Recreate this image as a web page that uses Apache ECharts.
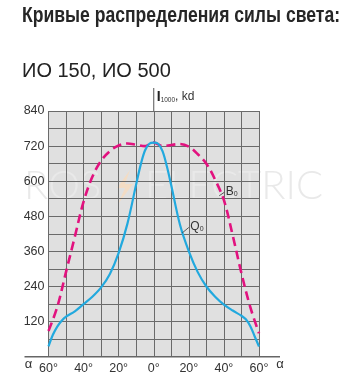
<!DOCTYPE html>
<html><head><meta charset="utf-8">
<script src="https://cdn.jsdelivr.net/npm/echarts@6/dist/echarts.min.js"></script>
<style>html,body{margin:0;padding:0;background:#fff}#c{width:352px;height:382px}</style>
</head><body><div id="c"></div>
<script>
// ---- data ----
const titleText = 'Кривые распределения силы света:';
const subtitleText = 'ИО 150, ИО 500';
const xTickLabels = [-60, -40, -20, 0, 20, 40, 60];
const yTickLabels = [120, 240, 360, 480, 600, 720, 840];
const q0Alpha = [-60,-57.5,-55,-52.5,-50,-45,-40,-35,-30,-25,-20,-15,-10,-7.5,-5,-2.5,0,2.5,5,7.5,10,15,20,25,30,35,40,45,50,52.5,55,57.5,60];
const q0Values = [35,75,103,123,137,155,180,205,237,283,355,455,590,655,705,728,732,728,703,650,585,450,360,290,240,205,178,158,140,128,105,70,35];
const b0Alpha = [-60,-55,-50,-45,-40,-35,-30,-25,-20,-15,-10,-5,-2.5,0,2.5,5,10,15,20,25,30,35,40,45,50,55,60];
const b0Values = [88,170,290,410,530,615,670,703,722,729,725,720,726,732,726,720,724,727,718,693,660,605,535,415,285,170,80];
const b0LabelAnchor = [[37.3, 550], [40.2, 562]];
const q0LabelAnchor = [[16.2, 423], [20, 442]];

const font = "'Liberation Sans', Arial, sans-serif";
const chart = echarts.init(document.getElementById('c'), null, {renderer: 'canvas'});
const pair = (a, v) => a.map((x, i) => [x, v[i]]);

chart.setOption({
  animation: false,
  grid: {left: 48.5, right: 93, top: 111, height: 245.7, show: true, backgroundColor: '#e0e0e0', borderWidth: 0, z: 0},
  xAxis: {
    type: 'value', min: -60, max: 60, interval: 10, z: 1,
    axisLine: {show: false}, axisTick: {show: false},
    splitLine: {show: true, lineStyle: {color: '#6a6a6a', width: 1}},
    axisLabel: {margin: 5, color: '#333', fontSize: 12.5, fontFamily: font,
      showMinLabel: true, showMaxLabel: true,
      formatter: v => xTickLabels.includes(v) ? Math.abs(v) + '°' : ''}
  },
  yAxis: {
    type: 'value', min: 0, max: 840, interval: 60, z: 1,
    axisLine: {show: false}, axisTick: {show: false},
    splitLine: {show: true, lineStyle: {color: '#6a6a6a', width: 1}},
    axisLabel: {margin: 4, color: '#333', fontSize: 12.5, fontFamily: font,
      showMaxLabel: true,
      formatter: v => yTickLabels.includes(v) ? String(v) : ''}
  },
  series: [
    {name: 'B0', type: 'line', data: pair(b0Alpha, b0Values), smooth: 0.35, symbol: 'none', z: 3,
      lineStyle: {color: '#e2127f', width: 2.6, type: [9, 5]}},
    {name: 'Q0', type: 'line', data: pair(q0Alpha, q0Values), smooth: 0.35, symbol: 'none', z: 4,
      lineStyle: {color: '#22a9de', width: 2.2}}
  ]
});

// measure title to fit reference width (condensed face)
const ctx = document.createElement('canvas').getContext('2d');
const titleFont = "bold 22px 'Liberation Sans', Arial, sans-serif";
ctx.font = titleFont;
const titleScale = 318 / ctx.measureText(titleText).width;

const P = (a, v) => chart.convertToPixel({gridIndex: 0}, [a, v]);
const g = [];
const bl = P(-60, 0), br = P(60, 0), top0 = P(0, 840);
g.push({type: 'line', z: 5, shape: {x1: bl[0] - 24, y1: bl[1], x2: br[0] + 21, y2: br[1]}, style: {stroke: '#666', lineWidth: 1.5}});
g.push({type: 'line', z: 5, shape: {x1: top0[0], y1: top0[1] - 23, x2: top0[0], y2: top0[1]}, style: {stroke: '#555', lineWidth: 1}});
g.push({type: 'text', z: 5, x: top0[0] + 3, y: top0[1] - 14, style: {
  text: '{i|I}{s|1000}{k|, kd}', textVerticalAlign: 'middle',
  rich: {i: {fontSize: 14, fontWeight: 'bold', fontFamily: font, fill: '#222'},
         s: {fontSize: 6.5, fontFamily: font, fill: '#333', verticalAlign: 'bottom', padding: [6, 0, 0, 0]},
         k: {fontSize: 12, fontFamily: font, fill: '#333'}}}});
g.push({type: 'text', z: 5, x: bl[0] - 20, y: bl[1] + 8, style: {text: 'α', fontSize: 13, fontFamily: font, fill: '#333', textAlign: 'center', textVerticalAlign: 'middle'}});
g.push({type: 'text', z: 5, x: br[0] + 21, y: br[1] + 8, style: {text: 'α', fontSize: 13, fontFamily: font, fill: '#333', textAlign: 'center', textVerticalAlign: 'middle'}});
g.push({type: 'text', z: 5, x: 22, y: 16, scaleX: titleScale, originX: 0, originY: 0, style: {text: titleText, font: titleFont, fill: '#262626', textVerticalAlign: 'middle'}});
g.push({type: 'text', z: 5, x: 22, y: 71, style: {text: subtitleText, fontSize: 20, fontFamily: font, fill: '#222', textVerticalAlign: 'middle'}});
g.push({type: 'text', z: 0.5, x: 24, y: 186, style: {text: 'ROS', fontSize: 40, fontFamily: "'Lato', 'Open Sans', sans-serif", fontWeight: 300, fill: '#e9e9e9', textVerticalAlign: 'middle'}});
g.push({type: 'text', z: 0.5, x: 145, y: 186, style: {text: 'ELECTRIC', fontSize: 40, fontFamily: "'Lato', 'Open Sans', sans-serif", fontWeight: 300, fill: '#e9e9e9', textVerticalAlign: 'middle'}});
g.push({type: 'polygon', z: 0.5, shape: {points: [[130, 170], [117, 188], [125, 188], [118, 204], [133, 184], [125, 184]]}, style: {fill: '#f3dcc4'}});
function seriesLabel(anchor, letter) {
  const a = P(anchor[0][0], anchor[0][1]), b = P(anchor[1][0], anchor[1][1]);
  g.push({type: 'line', z: 6, shape: {x1: a[0], y1: a[1], x2: b[0], y2: b[1]}, style: {stroke: '#333', lineWidth: 0.8}});
  g.push({type: 'text', z: 6, x: b[0] + 1.5, y: b[1] - 1, style: {
    text: '{m|' + letter + '}{s|0}', textVerticalAlign: 'middle',
    rich: {m: {fontSize: 12, fontFamily: font, fill: '#333'}, s: {fontSize: 7, fontFamily: font, fill: '#333', padding: [5, 0, 0, 0]}}}});
}
seriesLabel(b0LabelAnchor, 'B');
seriesLabel(q0LabelAnchor, 'Q');
chart.setOption({graphic: g});
</script></body></html>
